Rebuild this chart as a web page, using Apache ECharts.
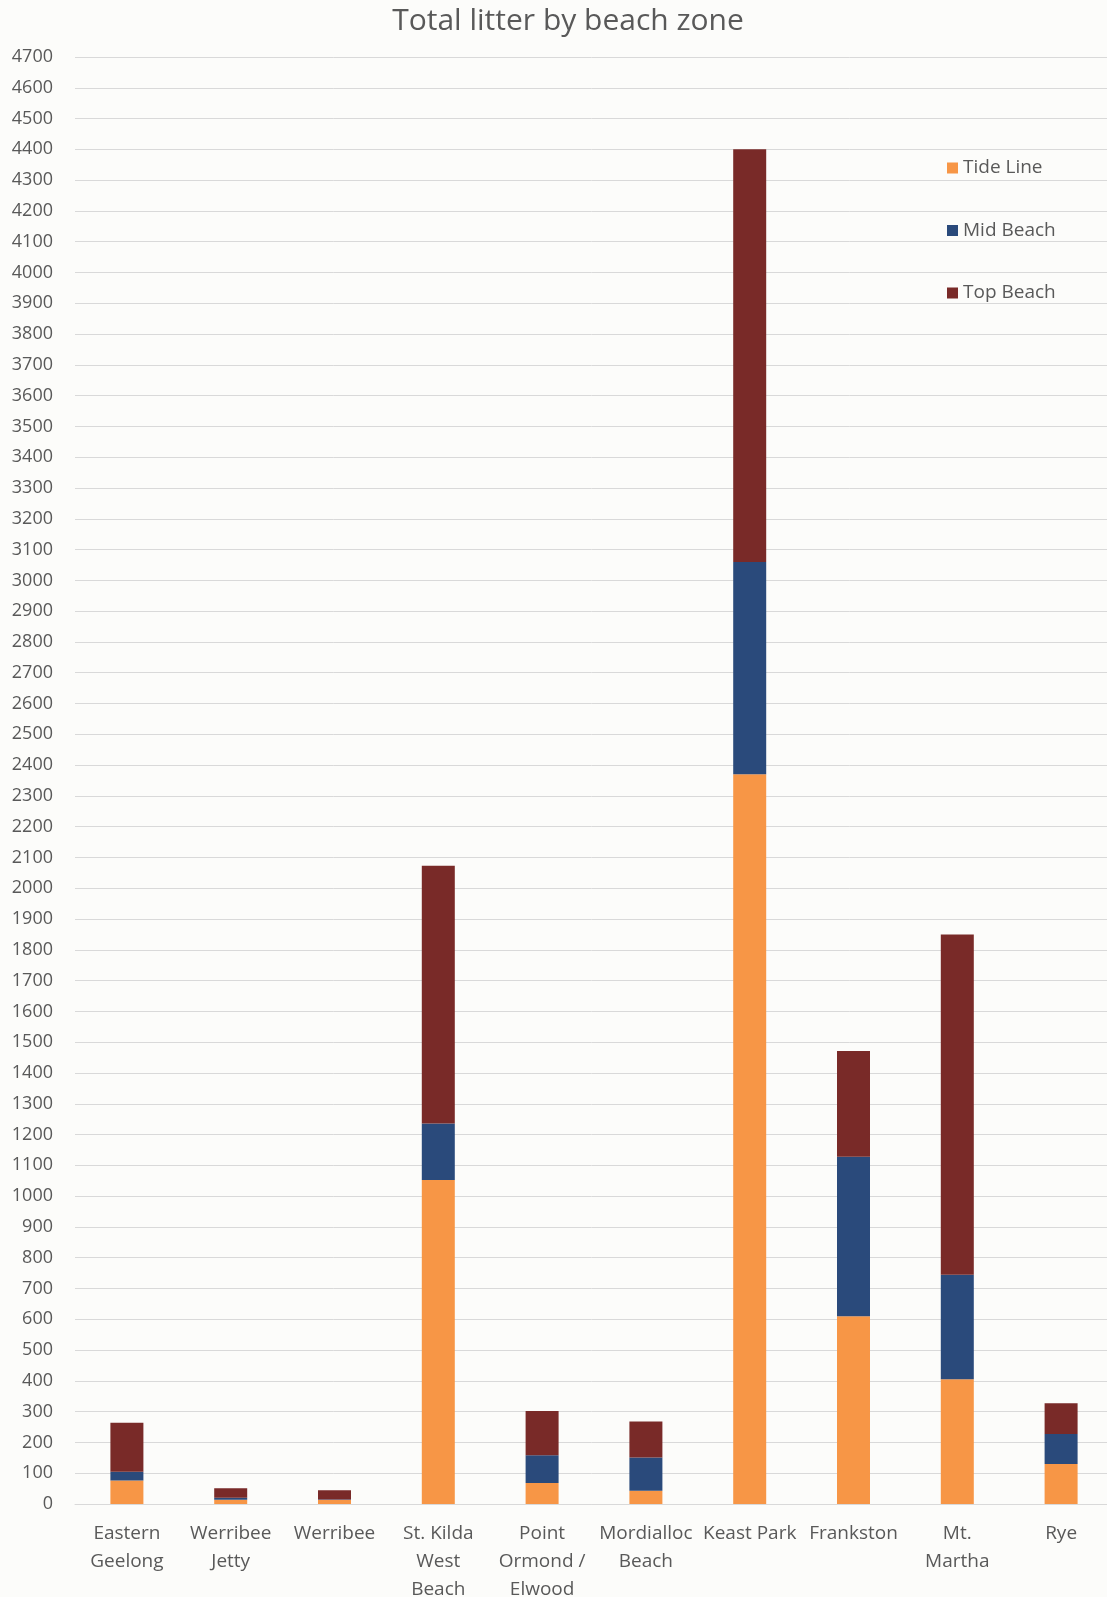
<!DOCTYPE html>
<html>
<head>
<meta charset="utf-8">
<title>Total litter by beach zone</title>
<script src="https://cdn.jsdelivr.net/npm/echarts@6/dist/echarts.min.js"></script>
<style>
  html, body { margin: 0; padding: 0; background: #fcfcfa; }
  #chart { width: 1107px; height: 1597px; }
</style>
</head>
<body>
<div id="chart"></div>
<script>
// Beach locations (line breaks follow the wrapped axis labels)
const categories = [
  'Eastern\nGeelong',
  'Werribee\nJetty',
  'Werribee',
  'St. Kilda\nWest\nBeach',
  'Point\nOrmond /\nElwood',
  'Mordialloc\nBeach',
  'Keast Park',
  'Frankston',
  'Mt.\nMartha',
  'Rye'
];

// Litter counts per zone, stacked bottom to top
const tideLine  = [76, 14, 13, 1052, 68, 43, 2370, 610, 405, 130];
const midBeach  = [29, 6, 2, 184, 90, 108, 690, 518, 340, 97];
const topBeach  = [159, 31, 30, 837, 144, 117, 1340, 343, 1105, 100];

const seriesNames = ['Tide Line', 'Mid Beach', 'Top Beach'];
const seriesColors = ['#f79646', '#2a4a7b', '#792a28'];

// Value axis range
const yMin = 0;
const yMax = 4700;
const yStep = 100;

const FONT = '"Open Sans", "Noto Sans", sans-serif';
const TEXT = '#595959';

const chart = echarts.init(document.getElementById('chart'), null, { renderer: 'canvas' });

const stacks = [tideLine, midBeach, topBeach];

chart.setOption({
  backgroundColor: '#fcfcfa',
  animation: false,
  title: {
    text: 'Total litter by beach zone',
    left: 563,
    top: 1,
    textAlign: 'center',
    textStyle: {
      fontFamily: FONT,
      fontSize: 30,
      fontWeight: 'normal',
      color: TEXT
    }
  },
  legend: {
    orient: 'vertical',
    left: 942,
    top: 152,
    itemGap: 40.5,
    itemWidth: 11,
    itemHeight: 11,
    icon: 'rect',
    data: seriesNames,
    textStyle: {
      fontFamily: FONT,
      fontSize: 19,
      color: TEXT,
      lineHeight: 22
    }
  },
  // plot area runs a little past the right edge of the canvas
  grid: {
    left: 75,
    right: -6,
    top: 57,
    bottom: 93,
    containLabel: false,
    outerBoundsMode: 'none'
  },
  xAxis: {
    type: 'category',
    data: categories,
    axisTick: { show: false },
    axisLine: { show: true, lineStyle: { color: '#d9d9d9', width: 1 } },
    axisLabel: {
      interval: 0,
      margin: 16,
      fontFamily: FONT,
      fontSize: 19,
      lineHeight: 28,
      color: TEXT,
      align: 'center',
      verticalAlign: 'top'
    }
  },
  yAxis: {
    type: 'value',
    min: yMin,
    max: yMax,
    interval: yStep,
    axisLine: { show: false },
    axisTick: { show: false },
    splitLine: { show: true, lineStyle: { color: '#d9d9d9', width: 1 } },
    axisLabel: {
      margin: 22,
      fontFamily: FONT,
      fontSize: 18,
      color: TEXT,
      formatter: (v) => String(v)
    }
  },
  series: stacks.map((values, i) => ({
    name: seriesNames[i],
    type: 'bar',
    stack: 'litter',
    barWidth: 33,
    data: values,
    itemStyle: { color: seriesColors[i] }
  }))
});
</script>
</body>
</html>
